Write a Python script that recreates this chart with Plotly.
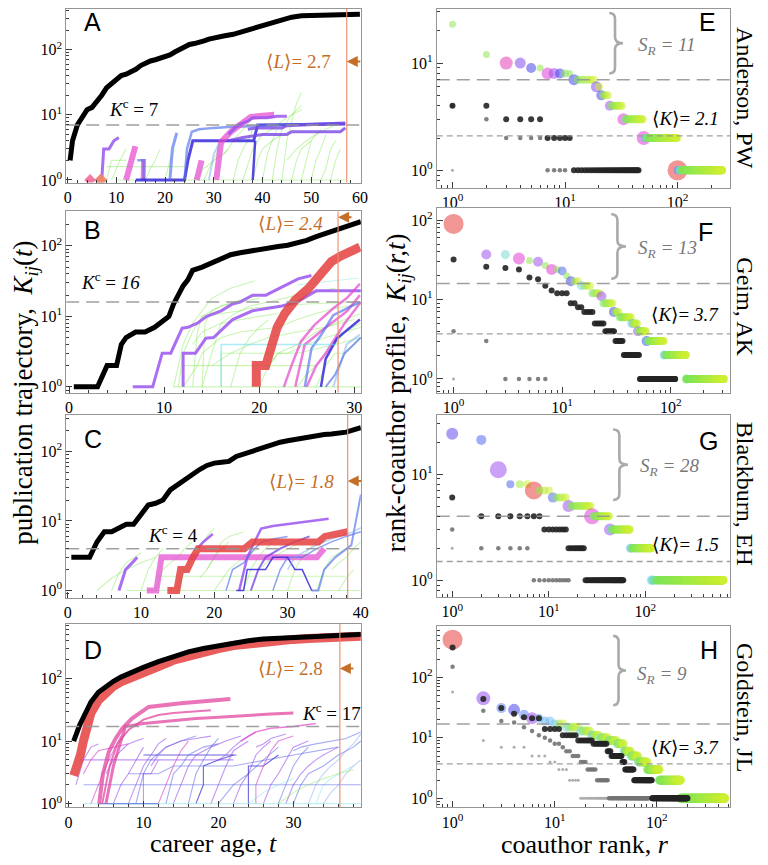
import math
import plotly.graph_objects as go

# The page adds an 8px body margin, so the figure is 8px smaller and all reference
# pixel positions are shifted by that offset.
OFF = 8
W, H = 768 - OFF, 865 - OFF
def PX(x): return (x - OFF) / W
def PY(y): return 1 - (y - OFF) / H

# ===================== DATA =====================
# ---- Panel A : Anderson, PW ----
A_t_end = 60.0
A_L = 2.7
A_Kc = 7
A_black_t = [0.5,1,2,3,4,5,6,7,8,9,10,11,12,13,14,15,16,17,18,19,20,21,22,23,24,25,26,27,28,29,30,32,34,36,38,40,42,44,46,48,50,52,54,56,58,60]
A_black_K = [2,4,7,9,12,13,16,20,26,30,35,40,42,45,50,57,63,67,70,74,78,83,92,100,110,120,124,128,136,145,152,162,172,190,210,240,265,290,315,330,335,338,340,342,345,348]
A_lines = [
    ([7,7.4,8.5,9.5,10.5],[1,3,3,4,4.5]),
    ([12,13.9],[1,3.3]),
    ([15.5,15.6],[1,2.1]),
    ([14.3,15.6,15.6],[2,2,1]),
    ([14,24,24.7,25.7,38.2,39,57],[1,1,2,4,4,7,7.2]),
    ([21,21.5,22.4],[1,3,5.3]),
    ([24,24.5,25.5,27,30,33,56],[1,3,5.5,6,6.3,6.5,7.5]),
    ([26.5,27.5],[1,2]),
    ([30.5,31.5,33.6,36.3,37.6,42.4],[1,3.8,5.6,7.6,9.3,10]),
    ([33,35,37,38,41,43,45],[5,7,8,9,9,9.5,9.5]),
    ([37,39,44,45,57],[6,6.3,6.3,6.8,7.5]),
    ([33,36,40,45,46,56,57],[4,4.5,5,5,5.5,5.5,6.3]),
    ([29,30,31],[1,2.5,3.5]),
    ([38,38.5],[1,4]),
]
A_line_color = ['purple','magenta','magenta','blue','darkblue','blue','blue','magenta','magenta','purple','violet','violet','lightblue','darkblue']
A_line_width = [3,6,5,2.5,3,3,2.5,6,6,3,3,3,2,2.5]
A_thin = [
    ([8,14,16,24],[1.6,1.6,1.6,1.6]), ([9,10,11,12],[1,1.5,2.2,3]), ([16,17,18,19],[1,1.5,2,3]),
    ([20,21,22],[1,2,3]), ([26,28,30,32,33],[1,1.5,2,2.5,3]), ([34,35,36,37,38],[1,2,3,4,6]),
    ([36,37,38,40],[1,1.8,3,5]), ([38,39,40,42,44],[1,2,3,4,5]), ([40,41,42,43],[1,2.5,4,6]),
    ([42,43,44,46,48],[1,3,6,10,12]), ([44,45,46,47,48],[1,4,8,15,22]), ([46,47,48,50],[1,2,3,4]),
    ([48,49,50,51,52],[1,2,4,5,6]), ([50,51,52,53],[1,2,3,5]), ([52,53,54,55],[1,1.5,3,4]),
    ([54,55,56],[1,2,3]), ([10,57],[1,1]), ([28,29,30,31],[1,1.5,2,3]),
    ([32,33,34,36,38],[2.5,3,4,6,9]), ([40,42,44,46,48],[5,6,8,10,14]), ([8,9,10,12],[1,2,2,2]),
    ([45,47,49,51,53,55],[2,3,4,5,6,7]),
]
A_dots_t = [4.6, 6.7, 7.0]
A_dots_K = [1, 1, 1]

# ---- Panel B : Geim, AK ----
B_t_end = 30.7
B_L = 2.4
B_Kc = 16
B_black_t = [0.5,3,4,5,5.5,6,7,8,9,10,10.5,11,11.5,12,12.5,13,14,15,16,17,18,19,20,21,22,23,24,25,26,27,28,29,30,30.7]
B_black_K = [1,1,2,2,4,5,6,6,7,9,10,15,20,27,33,45,50,58,66,75,80,85,90,95,98,102,110,120,135,150,165,180,200,220]
B_red_t = [19.7,19.7,20.7,21.4,21.9,22.7,23.8,25.2,26.6,27.6,28.6,29.5,30.6]
B_red_K = [1,2,2,4,7,11,17,25,40,60,72,84,96]
B_lines = [
    ([6.7,8.8,9.8,10.7,11.9,12.5,13.5,14.5,16,17.2,18,19.3,20.7,22.4,23.4,24.1,25.5],[1,1,3,3,6.8,7,8,10,12,15,16,20,20,26,31,34,38]),
    ([12,12,13.3,14.4,15.2,16.4,17.2,19.3,20.7,22.4,24,26,30.7],[1,3,3,4.9,5,7,9,12,13,14,16,23,23]),
    ([22.6,23.4,24.4,25.8,27.8,29.2,30.6],[1,2,4.4,7.5,13,18,29]),
    ([23.8,24.8,26.9,29.2,30.6],[1,4,6.8,11.7,20]),
    ([25,26,27,28,29,30,30.7],[1,2,3,5,8,12,16]),
    ([24.8,25.5,26.5,27.8,30.6],[1,3.5,5.4,10.4,16]),
    ([26.5,27,28.2,29,30.6],[1,2.5,4.9,6,9]),
    ([27.8,29.2,30.6],[1,4,5.5]),
    ([16,16,28],[1,4,4]),
    ([24,26,28,30.5],[28,30,32,35]),
    ([27,28,29,30,30.7],[1,1.5,3,4,5]),
]
B_line_color = ['purple','purple','magenta','magenta','magenta','blue','darkblue','lightblue','cyan','lightcyan','blue']
B_line_width = [3,3,2.5,2.5,2.5,2.5,2.5,2,1.5,1.2,2]
B_thin = [
    ([11,12,13,14,15,17,19.6],[1,4,8,12,18,25,32]), ([11.5,12,13,14,16,18,20],[1,3,6,10,14,17,20]),
    ([12,13.5,14,16,18,20,22,24,26,28,30.7],[1,2,3,5,6,6.5,7,9,11,13,15]),
    ([13,13.5,14,18,19,22,25,30.7],[1,6,10,12,13,14,15,16]), ([14,15,16,17,18,19,21,24,28],[1,3,8,10,12,14,16,20,25]),
    ([12,14,20,26],[2,2,2,2]), ([11,30.7],[1,1]), ([16,16,20,24,28,30.7],[1,3,3,3,4,5]),
    ([20,21,22,24,26,28,30.7],[1,2,3,4,6,8,11]), ([24,25,26,27,28,29,30.7],[1,1.5,2,3,4,6,8]),
    ([26,27,28,29,30,30.7],[1,2,3,3,4,5]), ([14,14.3,15,16,18,20],[1,8,12,14,16,18]),
    ([17,18,19,20,21],[1,3,5,7,9]), ([21,22,23,25,27,30.7],[2,3,3,4,5,7]),
    ([13,14,16,18,20,22],[4,6,8,9,10,11]), ([15,17,19,21,24,27,30],[2,3,4,5,6,7,9]),
]

# ---- Panel C : Blackburn, EH ----
C_t_end = 40.0
C_L = 1.8
C_Kc = 4
C_black_t = [0.5,3,4,5,6,7,8,9,10,11,12,13,14,15,16,17,18,19,20,21,22,23,24,25,26,27,28,29,30,31,32,33,34,35,36,37,38,39,40]
C_black_K = [3,3,5,7,7,8,9,9,12,17,18,20,28,33,40,48,55,63,68,70,72,85,92,100,108,118,127,136,143,150,155,163,170,175,178,182,190,205,220]
C_red_t = [13.6,14.9,15.4,16.3,17.1,17.8,24.1,25.2,34.2,35.1,38.2]
C_red_K = [1,1,2,2,3,4,4,5,5,6,7]
C_lines = [
    ([10.8,12.1,12.8,34,35],[1,1,3,3,4]),
    ([7,7.9,8.8,9.5],[1,2,2.5,3]),
    ([17.7,18.5,19.8],[4,5,6.5]),
    ([23.4,24.5,25.5,26.4,28,30,33,35.6],[1,3,5,7.8,8.5,9,10,10.8]),
    ([25,26,27,29,31,33],[1,2,3,4,5,6]),
    ([33.3,34.2,35,36.5,38.7,40],[1,1,2,3,4.5,24]),
    ([21.6,22.5,24,25.5,26.5,28,30],[1,2,2.5,4,5,5.5,6]),
    ([28,29,30,32,34,36,38,40],[1,2,3,3,4,5,6,7]),
    ([23,24,24.5,27,28,30,31,32,33.3],[1,1,2,2,3,3,2,2,1]),
    ([30,31,33,35,37,39,40],[2,3,4,5,6,7,8]),
]
C_line_color = ['magenta','purple','purple','purple','violet','blue','blue','blue','darkblue','lightblue']
C_line_width = [6,3,2.5,2.5,2,2,1.5,1.5,1.5,1.5]
C_thin = [
    ([4,6,8,10,12],[1,1.5,2,2.5,3]), ([6,7,8,9,10],[1,1.8,2.5,3,3.5]), ([10,11,12,13],[1,2,3,4]),
    ([12,13,14,15,16,17],[1,2,2.5,3,4,5]), ([15,16,17,18,19,20],[1,2,3,4,6,8]), ([18,19,20,21,22],[1.5,2,3,4,5]),
    ([20,22,24,26],[1,2,3,4]), ([24,25,26,27,28],[1,2,3,4,5]), ([26,28,30,32],[2,3,4,5]),
    ([30,31,32,33,34],[1,2,3,4,5]), ([34,35,36,37,38],[1,2,3,3.5,4]), ([36,37,38,39,40],[2,2.5,3,4,5]),
    ([8,40],[1,1]), ([12,38],[1.6,1.6]), ([37,38,39],[1,1.5,2]), ([19,20,21,22,24],[2,3,5,6,7]),
]

# ---- Panel D : Goldstein, JL ----
D_t_end = 39.0
D_L = 2.8
D_Kc = 17
D_black_t = [0.7,1,1.5,2,2.5,3,4,5,6,7,8,9,10,12,14,16,18,20,22,24,26,28,30,32,34,36,38,39]
D_black_K = [10,13,18,24,32,42,60,75,90,105,120,135,150,185,225,265,300,335,375,400,425,440,455,465,480,490,500,505]
D_red_t = [0.7,1.2,1.6,2,2.5,3,4,5,6,7,8,10,12,14,16,18,20,22,24,26,28,30,32,34,36,38,39]
D_red_K = [2.8,4,6,10,17,28,45,60,75,88,100,125,155,195,230,265,300,335,360,385,405,420,435,445,455,465,470]
D_lines = [
    ([4.1,4.6,5.4,6.3,7.2,8.5,10.7,15,21.6],[1,3,6.8,11,16,23,35,40,47]),
    ([4.5,5.5,6.5,8,10,12,14,16,19],[1,4,9,15,22,26,28,29,31]),
    ([5,6,7,7.6,10,14,17,20,24,27,30],[1,4,10,17,19,21,23,24,26,27,28]),
    ([23,25,27,30,33],[10,14,16,17,19]),
]
D_line_color = ['pink','pink','pink','magenta']
D_line_width = [4,2,3,1.5]
D_thin = [
    ([1,2,3,4],[2,5,8,9]), ([1.5,22],[5,5]), ([10,22.4],[6,6]), ([4,12],[1,1]),
    ([3,4,5,6,7],[1,2,4,7,12]), ([6,7,8,9,10],[1,2,3,5,8]), ([8,9,10,11,12,13],[1,2,4,6,9,11]),
    ([9,10,11,13,15,17],[1,3,5,8,10,12]), ([10,10,11,12],[1,3,3,5]), ([12,13,14,15,16],[1,2,4,7,10]),
    ([13,14,15,16,18,20],[1,3,4,6,8,9]), ([14,15,16,17,19,21,23],[1,2,4,6,8,10,12]),
    ([16,17,18,19,20],[1,3,5,8,11]), ([17,18,18,20,22],[1,2,4,5,6]), ([19,20,21,22,24],[1,2,4,7,10]),
    ([20,22,24,26,28],[1,2,3,5,8]), ([22,23,24,25,26,27],[1,2,3,6,8,10]), ([24,24,26,28],[1,4,4,6]),
    ([25,25,26,27,28,30],[1,2,4,7,10,12]), ([26,27,28,29,30,32],[1,2,3,5,8,10]), ([28,29,30,31,32],[1,2,4,6,8]),
    ([29,30,31,32,33,34,36],[1,2,3,4,5,6,8]), ([30,31,32,34,36,38,39],[1,2,3,4,6,8,10]),
    ([32,33,34,35,36,37,38,39],[1,2,3,4,5,7,9,13]), ([34,35,36,37,38,39],[1,1.5,2,3,4,5]),
    ([33,34,35,36,37,38],[1,2,2.5,3,3.5,4]), ([2,39],[2,2]), ([2,39],[1,1]),
    ([8,12,14,16,22,30,36],[3,3,4,4,4,6,8]), ([20,21,22,23,24,25],[5,6,8,10,12,14]),
    ([25,26,27,28,29],[8,9,11,12,13]), ([30,31,33,35,37,39],[7,8,9,10,11,14]),
    ([5,6,7,8,9,10],[3,5,7,9,10,11]), ([2,3,4,6,8],[3,5,7,8,9]), ([11,12,13,15,17,19],[4,6,8,10,11,12]),
    ([28,30,32,34,36,38],[1,1.5,2,2.5,3,3.5]), ([24,26,28,30],[1,1.5,2,2.5]),
]
D_thin_color = ['tpur','tpur','tdblue','tdblue','tmag','tpur','tpur','tblue','tpur','tmag','tblue','tpur',
                'tblue','tdblue','tpur','tblue','tpur','tdblue','tmag','tpur','tblue','tpur','tblue','tlblue',
                'tlblue','tcyan','tblue','tcyan','tblue','tpur','tpur','tblue','tpur','tmag','tpur','green','tcyan']

# ---- Right panels: rank-coauthor profiles (K level, number of coauthors at that level) ----
E_SR, E_Kc, E_Kmean = 11, 7, 2.1
E_prof_K = [23,12,10,10,9,9,8,8,8,8,8,7,6,5,4,3,2,1]
E_prof_n = [1,1,1,1,1,1,1,1,1,1,1,7,2,4,8,17,50,150]
E_early_K = [[1],[4,3,2,1],[4,3,2,1]]
E_early_n = [[1],[1,1,4,4],[2,4,5,34]]

F_SR, F_Kc, F_Kmean = 13, 16, 3.7
F_prof_K = [90,37,37,33,31,30,27,24,24,23,20,17,15,12,11,9,7,6,5,4,3,2,1]
F_prof_n = [1,1,1,1,1,1,1,1,1,1,1,3,4,4,1,6,4,10,6,10,27,52,170]
F_early_K = [[1],[4,3,1],[32,26,25,24,19,18,15,13,12,9,8,7,5,4,3,2,1]]
F_early_n = [[1],[1,1,5],[1,1,1,1,1,1,1,1,3,2,2,4,5,6,6,15,59]]

G_SR, G_Kc, G_Kmean = 28, 4, 1.5
G_prof_K = [24,21,11,8,7,6,5,4,3,2,1]
G_prof_n = [1,1,1,3,4,5,12,15,27,46,525]
G_early_K = [[2],[3,2,1],[6,4,3,2,1]]
G_early_n = [[1],[1,5,10],[1,7,7,8,36]]

H_SR, H_Kc, H_Kmean = 9, 17, 3.7
H_prof_K = [420,45,31,29,24,21,21,19,19,17,15,13,11,10,9,8,6,5,4,3,2,1]
H_prof_n = [1,1,1,1,1,1,1,1,1,3,5,5,5,6,7,7,8,10,15,25,65,290]
H_early_K = [[57,9,7,5,4,3,2,1],[150,28,19,18,15,13,11,10,9,8,7,6,5,4,3,2,1],
             [310,44,31,25,22,21,21,14,11,9,8,6,5,4,3,2,1]]
H_early_n = [[1,1,3,3,2,3,4,20],[1,1,1,1,1,1,1,1,1,2,1,2,3,3,5,8,50],
             [1,1,1,1,1,1,1,4,5,7,9,3,10,3,11,30,110]]

# ===================== STYLE =====================
COL = {
    'red':'rgba(228,64,64,0.85)', 'magenta':'rgba(228,70,205,0.7)', 'pink':'rgba(226,70,160,0.75)',
    'purple':'rgba(155,85,240,0.85)', 'violet':'rgba(120,70,230,0.8)', 'darkblue':'rgba(55,40,220,0.85)',
    'blue':'rgba(80,110,235,0.65)', 'lightblue':'rgba(120,170,240,0.5)', 'cyan':'rgba(100,220,235,0.55)',
    'lightcyan':'rgba(150,235,235,0.5)', 'green':'rgba(120,230,70,0.4)',
    'tmag':'rgba(215,60,200,0.6)', 'tpur':'rgba(150,80,235,0.6)', 'tblue':'rgba(80,90,230,0.5)',
    'tdblue':'rgba(60,50,210,0.75)', 'tlblue':'rgba(120,160,240,0.45)', 'tcyan':'rgba(110,220,230,0.4)',
}
STOPS = [(0.0,(230,60,60)),(0.15,(225,60,215)),(0.3,(160,80,240)),(0.45,(70,70,235)),
         (0.55,(100,140,245)),(0.65,(120,215,245)),(0.8,(125,230,90)),(1.0,(205,240,50))]
def cmap(c, a=0.78):
    c = max(0.0, min(1.0, c))
    for (c0, k0), (c1, k1) in zip(STOPS[:-1], STOPS[1:]):
        if c <= c1:
            f = (c - c0) / (c1 - c0) if c1 > c0 else 0
            r, g, b = [int(k0[i] + f * (k1[i] - k0[i])) for i in range(3)]
            return f'rgba({r},{g},{b},{a})'
    return f'rgba(205,240,50,{a})'

E_head_c = [0.85,0.85,0.12,0.35,0.45,0.85,0.15,0.3,0.45,0.8,0.85,0.45,0.35,0.45,0.3,0.15,0.15,0.0]
E_head_s = [7,7,13,11,10,7,12,11,10,8,7,11,11,10,10,12,14,20]
F_head_c = [0.0,0.3,0.68,0.15,0.85,0.3,0.85,0.15,0.85,0.5,0.85,0.45,0.65,0.8,0.3,0.8,0.45,0.8,0.6,0.3,0.45,0.62,0.8]
F_head_s = [20,10,9,12,7,10,7,11,7,9,7,10,9,8,10,8,10,8,9,10,10,9,9]
G_head_c = [0.4,0.5,0.3,0.5,0.0,0.5,0.3,0.15,0.3,0.6,0.66]
G_head_s = [12,10,17,8,18,10,12,16,12,9,10]
H_head_c = [0.0,0.32,0.55,0.45,0.55,0.3,0.6,0.6,0.62,0.62,0.65,0.65,0.62,0.65,0.7,0.7,0.6,0.65,0.62,0.8,0.8,0.8]
H_head_s = [20,14,10,12,10,12,9,9,9,9,9,9,9,9,9,9,9,9,9,9,9,9]
EARLY_STYLE = [(3, 'rgba(165,165,165,0.9)'), (4.5, 'rgba(115,115,115,0.9)'), (6, 'rgba(35,35,35,0.9)')]

SERIF = 'Liberation Serif, DejaVu Serif, serif'
SANS = 'Liberation Sans, Arial, sans-serif'
ORANGE = 'rgb(196,110,40)'

LEFT_X = [PX(64), PX(363)]
RIGHT_X = [PX(440), PX(738)]
DOMY = {1:(3,183), 2:(212,395), 3:(417,602), 4:(628,813), 5:(3,188), 6:(209,395), 7:(417,601), 8:(630,813)}
XRANGE = {1:[-0.3,60.2], 2:[-0.3,30.7], 3:[-0.2,40], 4:[-0.3,39],
          5:[-0.14,2.47], 6:[-0.155,2.55], 7:[-0.16,2.88], 8:[-0.155,2.72]}
YRANGE = {1:[-0.04,2.70], 2:[-0.085,2.49], 3:[-0.11,2.53], 4:[-0.06,2.87],
          5:[-0.16,1.55], 6:[-0.175,2.15], 7:[-0.16,1.56], 8:[-0.15,2.85]}
# panels touching the top of the page are cut by the page margin: trim their range to keep the scale
for i in DOMY:
    top, bot = DOMY[i]
    if top < OFF:
        lo, hi = YRANGE[i]
        YRANGE[i] = [lo, lo + (hi - lo) * (bot - OFF) / (bot - top)]
        DOMY[i] = (OFF, bot)

fig = go.Figure()

def ax(i):
    return ('x' if i == 1 else f'x{i}'), ('y' if i == 1 else f'y{i}')

def add_line(i, t, K, color, width, dash=None):
    xa, ya = ax(i)
    fig.add_trace(go.Scatter(x=t, y=K, mode='lines', xaxis=xa, yaxis=ya, hoverinfo='skip',
                             showlegend=False, line=dict(color=color, width=width, dash=dash)))

def left_panel(i, t_end, L, Kc, black_t, black_K, lines, lcol, lwid, thin, thin_col=None, red=None, red_w=8):
    for j, (t, K) in enumerate(thin):
        c = COL[thin_col[j]] if thin_col else COL['green']
        add_line(i, t, K, c, 1.1)
    for (t, K), c, w in zip(lines, lcol, lwid):
        add_line(i, t, K, COL[c], w)
    if red is not None:
        add_line(i, red[0], red[1], COL['red'], red_w)
    add_line(i, black_t, black_K, 'black', 5)
    x0, x1 = XRANGE[i]
    add_line(i, [x0, x1], [Kc, Kc], 'rgba(150,150,150,0.9)', 1.5, '13px,7px')
    lo, hi = YRANGE[i]
    add_line(i, [t_end - L, t_end - L], [10**lo, 10**hi], 'rgba(238,140,105,0.95)', 1.2)

left_panel(1, A_t_end, A_L, A_Kc, A_black_t, A_black_K, A_lines, A_line_color, A_line_width, A_thin)
fig.add_trace(go.Scatter(x=A_dots_t, y=A_dots_K, mode='markers', xaxis='x', yaxis='y', hoverinfo='skip',
                         showlegend=False, marker=dict(symbol='diamond', size=9,
                         color=['rgba(240,100,150,0.85)','rgba(235,110,90,0.85)','rgba(240,140,110,0.8)'])))
left_panel(2, B_t_end, B_L, B_Kc, B_black_t, B_black_K, B_lines, B_line_color, B_line_width, B_thin,
           red=(B_red_t, B_red_K), red_w=9)
left_panel(3, C_t_end, C_L, C_Kc, C_black_t, C_black_K, C_lines, C_line_color, C_line_width, C_thin,
           red=(C_red_t, C_red_K), red_w=7)
left_panel(4, D_t_end, D_L, D_Kc, D_black_t, D_black_K, D_lines, D_line_color, D_line_width, D_thin,
           thin_col=D_thin_color, red=(D_red_t, D_red_K), red_w=9)

def expand(Ks, ns):
    r, k, idx = [], [], []
    rank = 1
    for j, (K, n) in enumerate(zip(Ks, ns)):
        start = rank
        for q in range(n):
            r.append(rank); k.append(K); idx.append((j, q, start, start + n - 1))
            rank += 1
    return r, k, idx

def right_panel(i, prof_K, prof_n, head_c, head_s, early_K, early_n, Kc, Kmean, tail_s=8):
    xa, ya = ax(i)
    r, k, idx = expand(prof_K, prof_n)
    cols, sizes = [], []
    for rr_, (j, q, rs, re_) in zip(r, idx):
        if q == 0:
            cols.append(cmap(head_c[j])); sizes.append(head_s[j])
        else:
            # colour along each plateau: short blue/cyan transition, then green to yellow-green
            frac = math.log(rr_ / rs) / math.log(re_ / rs)
            c0 = max(head_c[j], 0.5)
            if frac < 0.1:
                c = c0 + (0.8 - c0) * frac / 0.1 if c0 < 0.8 else c0
            else:
                c = 0.8 + 0.2 * (frac - 0.1) / 0.9
            cols.append(cmap(c)); sizes.append(tail_s)
    fig.add_trace(go.Scatter(x=r, y=k, mode='markers', xaxis=xa, yaxis=ya, hoverinfo='skip', showlegend=False,
                             marker=dict(size=sizes, color=cols, line=dict(width=0))))
    for (Ks, ns), (sz, cl) in zip(zip(early_K, early_n), EARLY_STYLE):
        rr, kk, _ = expand(Ks, ns)
        fig.add_trace(go.Scatter(x=rr, y=kk, mode='markers', xaxis=xa, yaxis=ya, hoverinfo='skip',
                                 showlegend=False, marker=dict(size=sz, color=cl, line=dict(width=0))))
    x0, x1 = XRANGE[i]
    add_line(i, [10**x0, 10**x1], [Kc, Kc], 'rgba(150,150,150,0.9)', 1.5, '13px,7px')
    add_line(i, [10**x0, 10**x1], [Kmean, Kmean], 'rgba(150,150,150,0.9)', 1.3, '6px,4px')

right_panel(5, E_prof_K, E_prof_n, E_head_c, E_head_s, E_early_K, E_early_n, E_Kc, E_Kmean)
right_panel(6, F_prof_K, F_prof_n, F_head_c, F_head_s, F_early_K, F_early_n, F_Kc, F_Kmean)
right_panel(7, G_prof_K, G_prof_n, G_head_c, G_head_s, G_early_K, G_early_n, G_Kc, G_Kmean)
right_panel(8, H_prof_K, H_prof_n, H_head_c, H_head_s, H_early_K, H_early_n, H_Kc, H_Kmean, tail_s=9)

# ---------- axes ----------
LOG_MINOR = [m * 10**e for e in range(-1, 3) for m in range(2, 10)]
POW_VALS = [1, 10, 100]
POW_TEXT = ['10<sup>0</sup>', '10<sup>1</sup>', '10<sup>2</sup>']
layout = dict(width=W, height=H, margin=dict(l=0, r=0, t=0, b=0),
              plot_bgcolor='white', paper_bgcolor='white', showlegend=False)
base = dict(showline=True, mirror=True, linecolor='rgb(150,150,150)', linewidth=1, showgrid=False,
            zeroline=False, ticks='inside', ticklen=6, tickcolor='rgb(60,60,60)',
            tickfont=dict(family=SERIF, size=16, color='black'))
for i in range(1, 9):
    xk = 'xaxis' if i == 1 else f'xaxis{i}'
    yk = 'yaxis' if i == 1 else f'yaxis{i}'
    xa, ya = ax(i)
    left = i <= 4
    ydom = [max(0.0, PY(DOMY[i][1])), min(1.0, PY(DOMY[i][0]))]
    if left:
        xd = dict(base, domain=LEFT_X, range=XRANGE[i], tickmode='array', tickvals=[0,10,20,30,40,50,60],
                  minor=dict(ticks='inside', ticklen=3, dtick=2, tick0=0, tickcolor='rgb(60,60,60)'))
    else:
        xd = dict(base, domain=RIGHT_X, type='log', range=XRANGE[i], tickmode='array', tickvals=POW_VALS,
                  ticktext=POW_TEXT, minor=dict(ticks='inside', ticklen=3, tickmode='array',
                  tickvals=LOG_MINOR, tickcolor='rgb(60,60,60)'))
    yd = dict(base, domain=ydom, type='log', range=YRANGE[i], tickmode='array', tickvals=POW_VALS,
              ticktext=POW_TEXT, minor=dict(ticks='inside', ticklen=3, tickmode='array',
              tickvals=LOG_MINOR, tickcolor='rgb(60,60,60)'))
    xd['anchor'] = ya
    yd['anchor'] = xa
    layout[xk] = xd
    layout[yk] = yd
fig.update_layout(**layout)

# ---------- braces (decorations) ----------
def brace_path(x0, ytop, ybot, xtip):
    xv = x0 + (xtip - x0) * 0.42
    ym = (ytop + ybot) / 2
    d = 6
    P = lambda x, y: f'{PX(x):.5f},{PY(y):.5f}'
    return (f'M {P(x0, ytop)} Q {P(xv, ytop)} {P(xv, ytop + d)} L {P(xv, ym - d)} '
            f'Q {P(xv, ym)} {P(xtip, ym)} Q {P(xv, ym)} {P(xv, ym + d)} L {P(xv, ybot - d)} '
            f'Q {P(xv, ybot)} {P(x0, ybot)}')

shapes = []
for (x0, yt, yb, xt) in [(615, 12, 73, 629), (617, 215, 280, 632), (619, 432, 503, 634), (619, 640, 710, 632)]:
    shapes.append(dict(type='path', xref='paper', yref='paper', path=brace_path(x0, yt, yb, xt),
                       line=dict(color='rgb(170,170,170)', width=2.6)))

# ---------- annotations ----------
ann = []
def txt(x, y, s, size, color='black', family=SERIF, angle=0, xanchor='center'):
    ann.append(dict(x=PX(x), y=PY(y), xref='paper', yref='paper', text=s, showarrow=False,
                    font=dict(family=family, size=size, color=color), textangle=angle,
                    xanchor=xanchor, yanchor='middle'))

for lab, (x, y) in zip('ABCDEFGH', [(91,21),(91,231),(91,442),(91,654),(715,21),(713,233),(716,444),(716,654)]):
    txt(x, y, lab, 25, family=SANS)

txt(132, 108, f'<i>K</i><sup>c</sup> = {A_Kc}', 19)
txt(109, 282, f'<i>K</i><sup>c</sup> = <i>{B_Kc}</i>', 19)
txt(172, 537, f'<i>K</i><sup>c</sup> = {C_Kc}', 19)
txt(333, 717, f'<i>K</i><sup>c</sup> = {D_Kc}', 19)

for i, (L, t_end, x, y) in enumerate([(A_L, A_t_end, 300, 61), (B_L, B_t_end, 292, 224),
                                       (C_L, C_t_end, 303, 484), (D_L, D_t_end, 292, 673)], start=1):
    txt(x, y, f'⟨<i>L</i>⟩= <i>{L}</i>' if i in (2, 3) else f'⟨<i>L</i>⟩= {L}', 19, color=ORANGE)
    xa, ya = ax(i)
    ann.append(dict(x=t_end - L, y=PY(y if i != 2 else 218), xref=xa, yref='paper', text='', showarrow=True,
                    ax=15, ay=0, arrowhead=2, arrowsize=1.1, arrowwidth=2, arrowcolor=ORANGE))

for SR, x, y in [(E_SR, 674, 45), (F_SR, 674, 250), (G_SR, 676, 470), (H_SR, 669, 679)]:
    txt(x, y, f'<i>S<sub>R</sub> = {SR}</i>', 19, color='rgb(120,120,120)')

for Km, y in zip([E_Kmean, F_Kmean, G_Kmean, H_Kmean], [118, 316, 548, 753]):
    txt(692, y, f'⟨<i>K</i>⟩= <i>{Km}</i>', 19)

for name, y in zip(['Anderson, PW', 'Geim, AK', 'Blackburn, EH', 'Goldstein, JL'], [98, 308, 497, 712]):
    txt(753, y, name, 24, angle=90)

txt(22, 395, 'publication trajectory,  <i>K<sub>ij</sub></i>(<i>t</i>)', 27, angle=-90)
txt(401, 395, 'rank-coauthor profile,  <i>K<sub>ij</sub></i>(<i>r,t</i>)', 27, angle=-90)
txt(213, 849, 'career age, <i>t</i>', 26)
txt(590, 850, 'coauthor rank, <i>r</i>', 26)

fig.update_layout(annotations=ann, shapes=shapes)
fig.write_html('out.html')
